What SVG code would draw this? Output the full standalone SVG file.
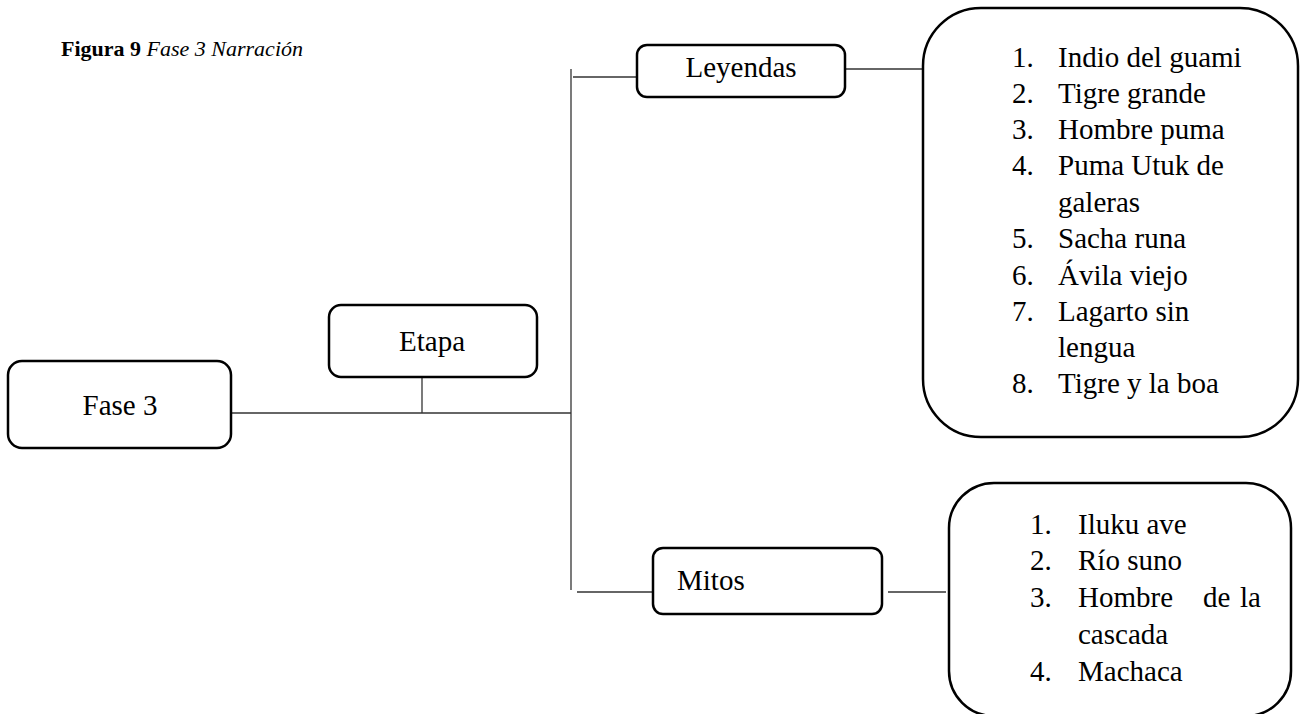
<svg xmlns="http://www.w3.org/2000/svg" width="1302" height="714" viewBox="0 0 1302 714">
  <style>
    .box { fill: #ffffff; stroke: #000000; stroke-width: 2.5; }
    .lbl { font-family: "Liberation Serif", "Times New Roman", serif; font-size: 29px; fill: #000000; }
    .conn line { stroke: #333333; stroke-width: 1.3; }
    .title { font-family: "Liberation Serif", "Times New Roman", serif; font-size: 22px; fill: #000000; }
  </style>
  <rect width="1302" height="714" fill="#ffffff"/>

  <!-- caption -->
  <text class="title" x="61" y="56"><tspan font-weight="bold">Figura 9</tspan> <tspan font-style="italic">Fase 3 Narración</tspan></text>

  <!-- connectors -->
  <g id="connectors" class="conn">
    <line x1="231" y1="413" x2="571" y2="413"/>
    <line x1="422" y1="377" x2="422" y2="413"/>
    <line x1="571" y1="69" x2="571" y2="590"/>
    <line x1="573" y1="77" x2="637" y2="77"/>
    <line x1="845" y1="69" x2="923" y2="69"/>
    <line x1="577" y1="592" x2="653" y2="592"/>
    <line x1="888" y1="592" x2="946" y2="592"/>
  </g>

  <g id="fase3">
    <rect class="box" x="8" y="361" width="223" height="87" rx="14"/>
    <text class="lbl" x="120" y="415" text-anchor="middle">Fase 3</text>
  </g>

  <g id="etapa">
    <rect class="box" x="329" y="305" width="208" height="72" rx="12"/>
    <text class="lbl" x="432" y="351" text-anchor="middle">Etapa</text>
  </g>

  <g id="leyendas">
    <rect class="box" x="637" y="45" width="208" height="52" rx="10"/>
    <text class="lbl" x="741" y="77" text-anchor="middle">Leyendas</text>
  </g>

  <g id="mitos">
    <rect class="box" x="653" y="548" width="229" height="66" rx="10"/>
    <text class="lbl" x="677" y="590">Mitos</text>
  </g>

  <g id="lista-leyendas">
    <rect class="box" x="923" y="8" width="375" height="429" rx="58"/>
    <g class="lbl">
      <text x="1012" y="67">1.</text><text x="1058" y="67">Indio del guami</text>
      <text x="1012" y="103">2.</text><text x="1058" y="103">Tigre grande</text>
      <text x="1012" y="139">3.</text><text x="1058" y="139">Hombre puma</text>
      <text x="1012" y="175">4.</text><text x="1058" y="175">Puma Utuk de</text>
      <text x="1058" y="212">galeras</text>
      <text x="1012" y="248">5.</text><text x="1058" y="248">Sacha runa</text>
      <text x="1012" y="285">6.</text><text x="1058" y="285">Ávila viejo</text>
      <text x="1012" y="321">7.</text><text x="1058" y="321">Lagarto sin</text>
      <text x="1058" y="357">lengua</text>
      <text x="1012" y="393">8.</text><text x="1058" y="393">Tigre y la boa</text>
    </g>
  </g>

  <g id="lista-mitos">
    <rect class="box" x="949" y="483" width="342" height="233" rx="45"/>
    <g class="lbl">
      <text x="1030" y="534">1.</text><text x="1078" y="534">Iluku ave</text>
      <text x="1030" y="570">2.</text><text x="1078" y="570">Río suno</text>
      <text x="1030" y="607">3.</text><text x="1078" y="607">Hombre</text><text x="1203" y="607">de</text><text x="1240" y="607">la</text>
      <text x="1078" y="644">cascada</text>
      <text x="1030" y="681">4.</text><text x="1078" y="681">Machaca</text>
    </g>
  </g>
</svg>
